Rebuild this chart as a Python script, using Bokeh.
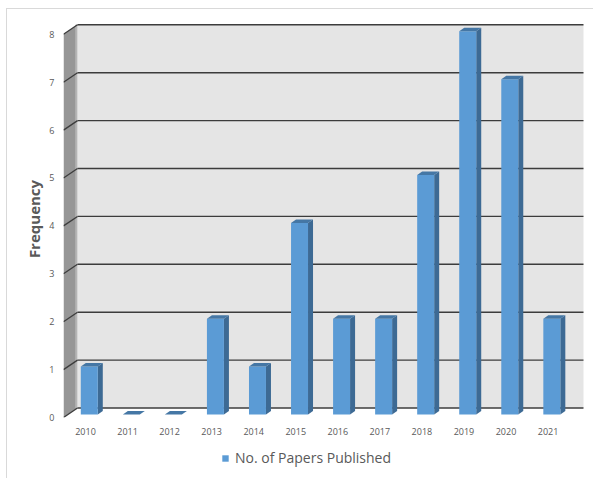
from bokeh.plotting import figure
from bokeh.layouts import column
from bokeh.models import (Range1d, FixedTicker, ColumnDataSource, Legend, LegendItem)
from bokeh.embed import file_html
from bokeh.resources import INLINE

# ---- data ----
years = ["2010", "2011", "2012", "2013", "2014", "2015", "2016", "2017", "2018", "2019", "2020", "2021"]
papers = [1, 0, 0, 2, 1, 4, 2, 2, 5, 8, 7, 2]
y_ticks = [0, 1, 2, 3, 4, 5, 6, 7, 8]
series_name = "No. of Papers Published"
y_title = "Frequency"

# ---- style constants (3D look) ----
X0, X1 = -0.5232, 11.891      # x range (category index units)
Y0, Y1 = 0.0, 8.288           # y range
WALL_DX, WALL_DY = 0.333, 0.198   # depth offset of the back wall
WALL_RIGHT = 11.843
BAR_OFF = 0.09                 # bar shift due to perspective
BAR_HW = 0.202                 # half width of bar front face
BAR_DX, BAR_DY = 0.119, 0.073  # bar depth
BAR_BASE = 0.063

FRONT = "#5b9bd5"
SIDE = "#3d6a94"
TOP = "#4577a5"
TEXT = "#595959"
GRID = "#3c3c3c"

p = figure(frame_width=522, frame_height=397, output_backend="svg", toolbar_location=None,
           x_range=Range1d(X0, X1), y_range=Range1d(Y0, Y1),
           min_border_left=63, min_border_right=8, min_border_top=20, min_border_bottom=21)
p.border_fill_alpha = 0
p.outline_line_color = None
p.xgrid.visible = False
p.ygrid.visible = False
p.background_fill_color = "white"

# side wall
xl = X0
xb = X0 + WALL_DX
ytop = y_ticks[-1]
p.patch([xl, xb, xb, xl], [0, WALL_DY, ytop + WALL_DY, ytop], fill_color="#969696", line_color=None)
p.segment(x0=[xb - 0.03], y0=[WALL_DY], x1=[xb - 0.03], y1=[ytop + WALL_DY], line_color="#b4b4b4", line_width=2)
# back wall
p.quad(left=[xb], right=[WALL_RIGHT], bottom=[WALL_DY], top=[ytop + WALL_DY], fill_color="#e5e5e5", line_color=None)

# gridlines: back wall + diagonal on side wall
p.segment(x0=[xb] * len(y_ticks), y0=[t + WALL_DY for t in y_ticks],
          x1=[WALL_RIGHT] * len(y_ticks), y1=[t + WALL_DY for t in y_ticks],
          line_color=GRID, line_width=1.4)
p.segment(x0=[xl] * len(y_ticks), y0=y_ticks,
          x1=[xb] * len(y_ticks), y1=[t + WALL_DY for t in y_ticks],
          line_color=GRID, line_width=1.3)

# bars
xs = [i + BAR_OFF for i in range(len(years))]
bot = [BAR_BASE] * len(years)
tops = [v + BAR_BASE for v in papers]
src = ColumnDataSource(dict(x=xs, bottom=bot, top=tops, year=years, value=papers))

side_x = [[x + BAR_HW, x + BAR_HW + BAR_DX, x + BAR_HW + BAR_DX, x + BAR_HW] for x in xs]
side_y = [[BAR_BASE, BAR_BASE + BAR_DY, t + BAR_DY, t] for t in tops]
top_x = [[x - BAR_HW, x - BAR_HW + BAR_DX, x + BAR_HW + BAR_DX, x + BAR_HW] for x in xs]
top_y = [[t, t + BAR_DY, t + BAR_DY, t] for t in tops]

p.patches(side_x, side_y, fill_color=SIDE, line_color=None)
front = p.vbar(x="x", bottom="bottom", top="top", width=2 * BAR_HW, source=src,
               fill_color=FRONT, line_color=None)
p.patches(top_x, top_y, fill_color=TOP, line_color=None)

# axes
p.yaxis.ticker = FixedTicker(ticks=y_ticks)
p.yaxis.axis_line_color = None
p.yaxis.major_tick_line_color = None
p.yaxis.minor_tick_line_color = None
p.yaxis.major_label_text_font = "Open Sans"
p.yaxis.major_label_text_font_size = "9px"
p.yaxis.major_label_text_color = TEXT
p.yaxis.major_label_standoff = 3
p.yaxis.axis_label = y_title
p.yaxis.axis_label_text_font = "Open Sans"
p.yaxis.axis_label_text_font_style = "bold"
p.yaxis.axis_label_text_font_size = "15px"
p.yaxis.axis_label_text_color = TEXT
p.yaxis.axis_label_standoff = 2

p.xaxis.ticker = FixedTicker(ticks=list(range(len(years))))
p.xaxis.major_label_overrides = {i: y for i, y in enumerate(years)}
p.xaxis.axis_line_color = None
p.xaxis.major_tick_line_color = None
p.xaxis.minor_tick_line_color = None
p.xaxis.major_label_text_font = "Open Sans"
p.xaxis.major_label_text_font_size = "9px"
p.xaxis.major_label_text_color = TEXT
p.xaxis.major_label_standoff = 4

# legend strip below the chart; its swatch renderer shares the bar data and style
# but is not drawn itself (visible=False), only its legend entry is shown
lg = figure(width=593, height=40, output_backend="svg", toolbar_location=None,
            x_range=Range1d(X0, X1), y_range=Range1d(0, 1),
            x_axis_location=None, y_axis_location=None,
            min_border_left=0, min_border_right=0, min_border_top=0, min_border_bottom=0)
lg.border_fill_alpha = 0
lg.background_fill_alpha = 0
lg.outline_line_color = None
lg.xgrid.visible = False
lg.ygrid.visible = False
swatch = lg.vbar(x="x", bottom="bottom", top="top", width=2 * BAR_HW, source=src,
                 fill_color=FRONT, line_color=None, visible=False)
legend = Legend(items=[LegendItem(label=series_name, renderers=[swatch])],
                location=(158, 11), orientation="horizontal",
                glyph_width=8, glyph_height=8, label_standoff=6,
                label_height=14,
                label_text_font="Open Sans", label_text_font_size="14px",
                label_text_color=TEXT, padding=0, margin=0,
                inactive_fill_alpha=0,
                border_line_color=None, background_fill_alpha=0)
lg.add_layout(legend)

layout = column(p, lg, spacing=0)
# thin chart-area border on the left and top (drawn behind the transparent canvases)
layout.styles = {"box-shadow": "inset 6px 8px 0 0 #ffffff, inset 7px 9px 0 0 #d9d9d9"}

open("out.html", "w").write(file_html(layout, INLINE))
